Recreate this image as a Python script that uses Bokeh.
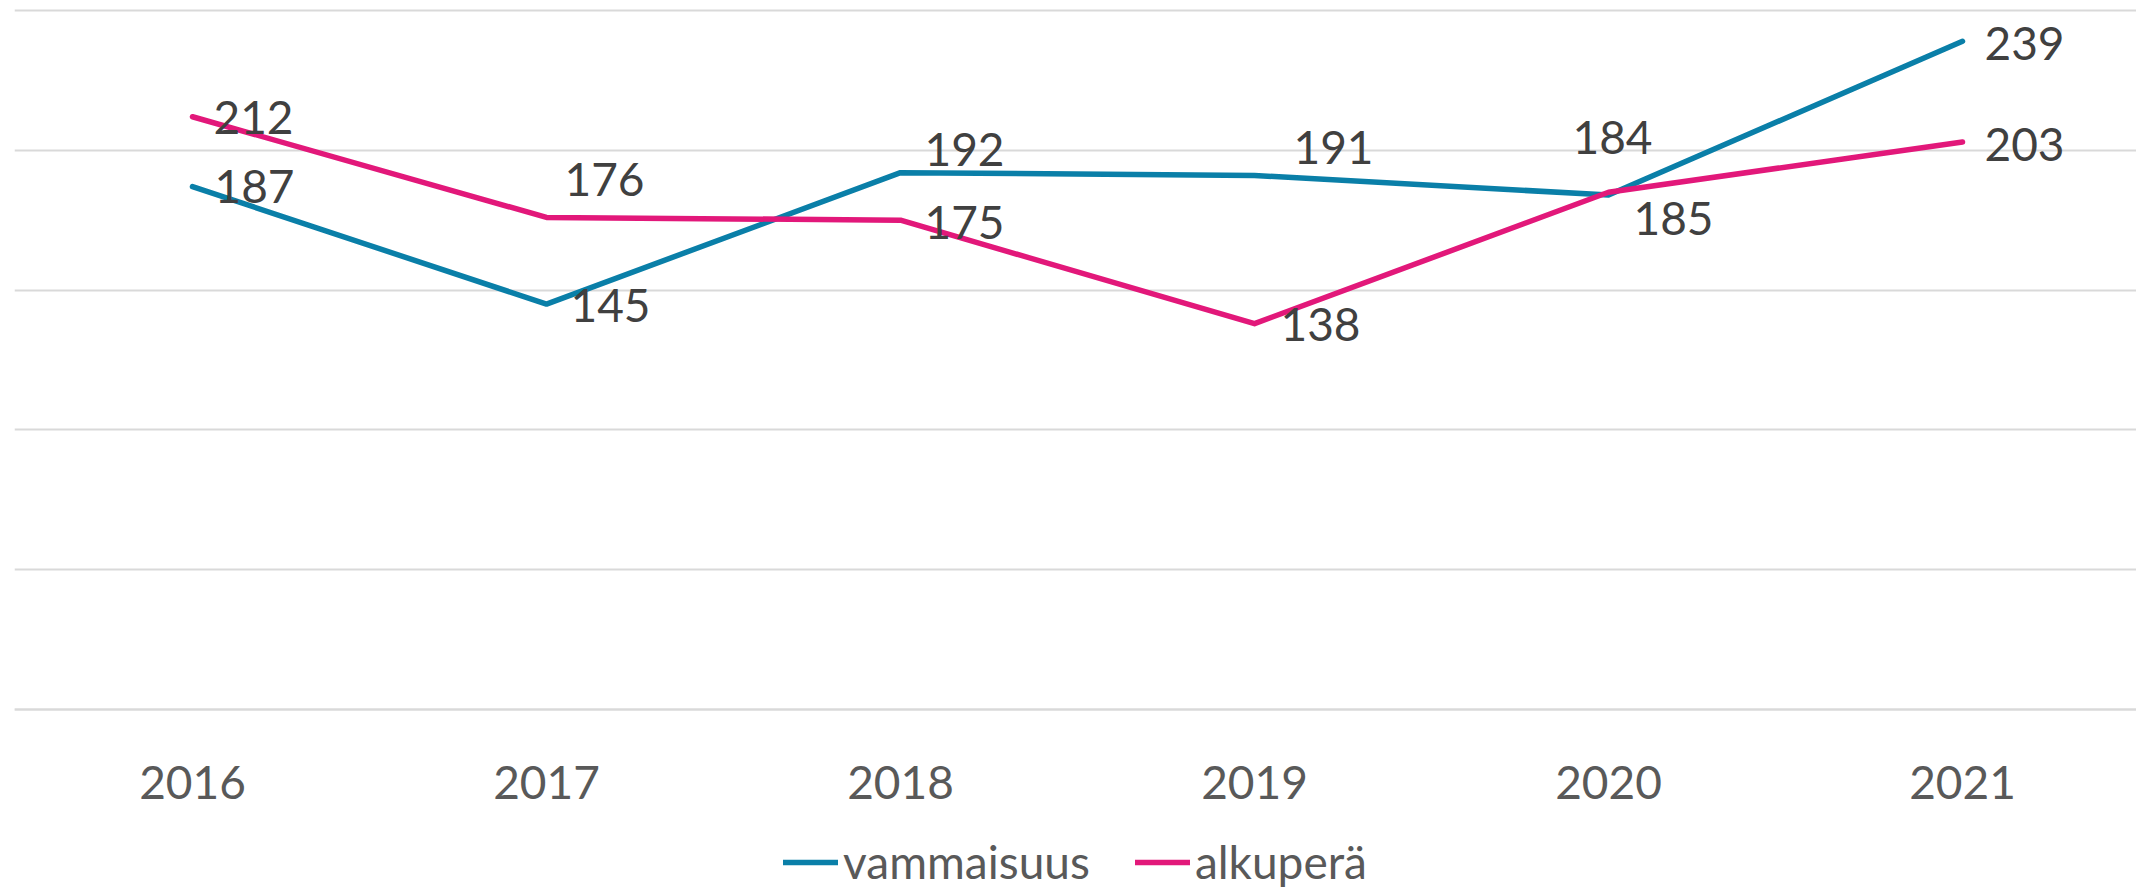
from bokeh.plotting import figure
from bokeh.models import ColumnDataSource, FixedTicker, Legend, LegendItem, Range1d
from bokeh.core.properties import value
from bokeh.embed import file_html
from bokeh.resources import INLINE

# ---- data ----
years = ["2016", "2017", "2018", "2019", "2020", "2021"]
vammaisuus = [187, 145, 192, 191, 184, 239]
alkupera = [212, 176, 175, 138, 185, 203]
series_names = ["vammaisuus", "alkuperä"]
grid_values = [0, 50, 100, 150, 200, 250]

# ---- label placement (screen px, style only) ----
vam_dx = [22, 24, 24, 39, -36, 22]
vam_dy = [0, 1, -23, -28, -58, 2]
alk_dx = [21, 18, 24, 26, 25, 22]
alk_dy = [1, -38, 2, 1, 26, 3]

BLUE = "#0A7FA8"
PINK = "#E2187A"
FONT = "Lato"

idx = list(range(len(years)))

p = figure(width=2136, height=889, output_backend="svg", toolbar_location=None,
           x_range=Range1d(-0.5028, 5.4915), y_range=Range1d(-64.37, 253.58),
           min_border_left=14, min_border_right=0, min_border_top=0, min_border_bottom=0)
p.outline_line_color = None
p.background_fill_color = "white"
p.border_fill_color = "white"

p.yaxis.visible = False
p.xgrid.grid_line_color = None
p.ygrid.ticker = FixedTicker(ticks=grid_values)
p.ygrid.grid_line_color = "#d9d9d9"
p.ygrid.grid_line_width = 2

xa = p.xaxis[0]
xa.fixed_location = 0
xa.ticker = FixedTicker(ticks=idx)
xa.major_label_overrides = {i: y for i, y in zip(idx, years)}
xa.major_label_text_font = FONT
xa.major_label_text_font_size = "46px"
xa.major_label_text_color = "#595959"
xa.major_tick_line_color = None
xa.minor_tick_line_color = None
xa.major_tick_out = 0
xa.major_tick_in = 0
xa.major_label_standoff = 56
xa.axis_line_color = "#d9d9d9"
xa.axis_line_width = 2

src_v = ColumnDataSource(dict(x=idx, y=vammaisuus, t=[str(v) for v in vammaisuus], dx=vam_dx, dy=vam_dy))
src_a = ColumnDataSource(dict(x=idx, y=alkupera, t=[str(v) for v in alkupera], dx=alk_dx, dy=alk_dy))

r1 = p.line("x", "y", source=src_v, line_color=BLUE, line_width=5.5, line_cap="round", line_join="round")
r2 = p.line("x", "y", source=src_a, line_color=PINK, line_width=5.5, line_cap="round", line_join="round")

for src in (src_v, src_a):
    p.text("x", "y", text="t", source=src, x_offset="dx", y_offset="dy",
           text_font=value(FONT), text_font_size="46px", text_color="#404040",
           text_align="left", text_baseline="middle")

legend = Legend(items=[LegendItem(label=series_names[0], renderers=[r1]),
                       LegendItem(label=series_names[1], renderers=[r2])],
                orientation="horizontal", location="bottom_center",
                label_text_font=FONT, label_text_font_size="46px", label_text_color="#595959",
                glyph_width=55, glyph_height=20, label_standoff=5, spacing=45,
                padding=0, margin=0, border_line_color=None, background_fill_alpha=0)
p.add_layout(legend)

open("out.html", "w").write(file_html(p, INLINE))
